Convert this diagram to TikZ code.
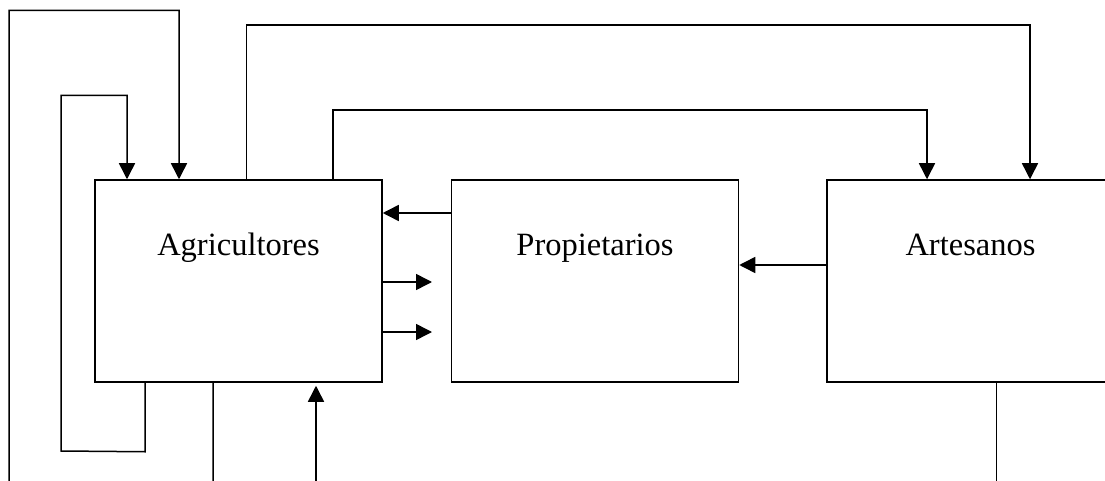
\documentclass[tikz,border=0pt]{standalone}
\usepackage{fontspec}
\setmainfont{Liberation Serif}
\usepackage{tikz}
\usetikzlibrary{arrows.meta,positioning}
\tikzstyle{sector} = [draw, rectangle, inner sep=0pt, minimum width=287pt,
    text height=75pt, text depth=127pt, font=\fontsize{32.5}{39}\selectfont]
\tikzstyle{flow} = [line width=1.5pt, -{Triangle[length=16pt, width=16pt]}]

\begin{document}
\begin{tikzpicture}[x=1pt, y=-1pt, line width=1.5pt]

\useasboundingbox (0,0) rectangle (1105,481);
\clip (0,0) rectangle (1105,481);

\node [sector] (agri) at (238.5,281) {Agricultores};
\node [sector, right=68pt of agri] (prop) {Propietarios};
\node [sector, right=87pt of prop] (arte) {Artesanos};

% loops back into Agricultores
\draw [flow] ([xshift=-93.5pt]agri.south) -- ++(0,69) -- (61,451)
    -- (61,95.5) -| ([xshift=-111.5pt]agri.north);
\draw [flow] ([xshift=-25.5pt]agri.south) -- ++(0,130) -- (9,512)
    -- (9,10.5) -| ([xshift=-59.5pt]agri.north);

% Agricultores to Artesanos, over the top
\draw [flow] ([xshift=8pt]agri.north) -- ++(0,-154) -| ([xshift=59.5pt]arte.north);
\draw [flow] ([xshift=94.5pt]agri.north) -- ++(0,-69) -| ([xshift=-43.5pt]arte.north);

% Artesanos to Agricultores, under the bottom
\draw [flow, shorten >=3pt] ([xshift=26pt]arte.south) -- ++(0,118) -| ([xshift=77.5pt]agri.south);

% between neighbours
\draw [flow] ([yshift=68pt]prop.west) -- ([yshift=68pt]agri.east);
\draw [flow] ([yshift=16pt]arte.west) -- ([yshift=16pt]prop.east);

\coordinate (out1) at (432,282);
\coordinate (out2) at (432,332);
\draw [flow] (agri.east |- out1) -- (out1);
\draw [flow] (agri.east |- out2) -- (out2);

\end{tikzpicture}
\end{document}
